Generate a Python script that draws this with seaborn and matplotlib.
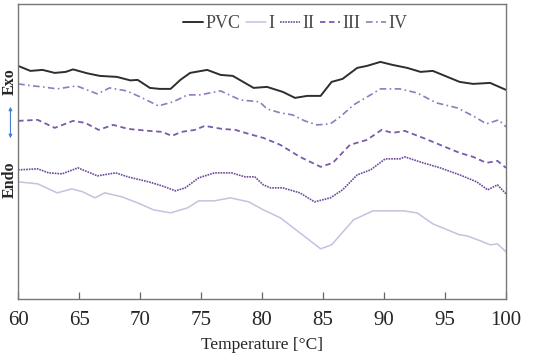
"""DSC thermograms of PVC and samples I-IV, 60-100 degC."""

import matplotlib

matplotlib.use("Agg")
import matplotlib.pyplot as plt
import pandas as pd
import seaborn as sns

# heat flow in arbitrary units (Exo up)
T_PVC = [60.0, 61.0, 62.0, 63.0, 63.9, 64.5, 65.7, 66.7, 68.1, 69.2, 69.8, 70.8,
         71.6, 72.5, 73.3, 74.1, 75.5, 76.6, 77.6, 79.3, 80.4, 81.7, 82.7, 83.7,
         84.8, 85.7, 86.6, 87.8, 88.6, 89.7, 90.7, 91.9, 93.0, 94.0, 95.2, 96.2,
         97.3, 98.7, 100.0]
HF_PVC = [233, 228, 229, 226, 227, 229.5, 225.5, 223, 222, 218.5, 219, 211,
          210, 210, 219, 226, 229, 224, 223, 211, 212, 207, 201, 203,
          203, 217, 220, 231, 233, 237, 234, 231, 227, 228, 222, 217,
          215, 216, 209]

T_I = [60.0, 61.6, 63.2, 64.4, 65.3, 66.3, 67.1, 68.5, 69.8, 71.1, 72.5, 73.9,
       74.8, 76.1, 77.4, 78.9, 80.1, 81.5, 83.1, 84.8, 85.7, 87.5, 89.1, 91.6,
       92.7, 94.0, 95.2, 96.2, 96.8, 97.9, 98.7, 99.3, 100.0]
HF_I = [117, 115, 106, 110, 107, 101, 106, 102, 96, 89, 86, 91,
        98, 98, 101, 97, 89, 81, 66, 50, 54, 79, 88, 88,
        86, 75, 69, 64, 63, 58, 54, 55, 47]

T_II = [60.0, 61.6, 62.5, 63.6, 64.9, 66.5, 68.0, 69.0, 70.7, 71.8, 72.9, 73.7,
        74.8, 76.1, 77.5, 78.6, 79.4, 80.1, 80.7, 81.7, 83.1, 84.3, 85.6, 86.6,
        87.8, 88.9, 90.1, 91.3, 91.7, 93.2, 94.6, 96.2, 97.6, 98.5, 99.3, 100.0]
HF_II = [129, 130, 126, 125, 131, 123, 126, 122, 117, 113, 108, 111,
         121, 126, 126, 122, 122, 114, 111, 111, 106, 97, 101, 109,
         124, 129, 140, 140, 142, 136, 131, 124, 117, 109, 114, 105]

T_III = [60.0, 61.6, 63.0, 64.5, 65.5, 66.6, 67.8, 69.0, 70.7, 71.8, 72.6, 73.4,
         74.5, 75.3, 76.7, 77.8, 78.9, 80.1, 81.5, 83.1, 84.8, 85.8, 87.2, 88.6,
         89.8, 90.7, 91.7, 93.2, 94.6, 96.2, 97.3, 98.4, 99.3, 100.0]
HF_III = [178, 179, 171, 178, 176, 169, 174, 170, 168, 167, 163, 167,
          169, 173, 170, 169, 165, 161, 154, 142, 132, 136, 154, 159,
          169, 166, 168, 161, 154, 146, 142, 136, 138, 131]

T_IV = [60.0, 61.2, 62.0, 63.2, 64.8, 66.5, 67.5, 68.9, 70.0, 71.5, 72.7, 73.9,
        74.9, 76.6, 78.2, 79.8, 80.4, 81.5, 82.5, 83.5, 84.5, 85.6, 86.4, 87.5,
        88.9, 89.7, 91.3, 92.7, 94.3, 96.0, 97.3, 98.4, 99.4, 100.0]
HF_IV = [215, 213, 212, 210, 213, 205, 211, 208, 202, 193, 197, 204,
         204, 208, 199, 197, 190, 186, 184, 178, 174, 175, 182, 194,
         204, 210, 210, 206, 196, 191, 183, 175, 179, 172]

SERIES = ["PVC", "I", "II", "III", "IV"]
COLORS = {"PVC": "#2e2e2e", "I": "#c9bfe0", "II": "#6a4b9c",
          "III": "#7a5bab", "IV": "#9379bf"}
STYLES = {"PVC": "-", "I": "-", "II": (0, (1, 0.6)),
          "III": (0, (3, 2)), "IV": (0, (4, 2, 1, 2))}
WIDTHS = {"PVC": 1.4, "I": 1.1, "II": 1.2, "III": 1.3, "IV": 1.2}

frames = []
for name, t, hf in [("PVC", T_PVC, HF_PVC), ("I", T_I, HF_I), ("II", T_II, HF_II),
                    ("III", T_III, HF_III), ("IV", T_IV, HF_IV)]:
    frames.append(pd.DataFrame({"T": t, "hf": hf, "sample": name}))
df = pd.concat(frames, ignore_index=True)

sns.set_style("white")
plt.rcParams["font.family"] = ["Liberation Serif", "DejaVu Serif"]

fig = plt.figure(figsize=(5.5, 3.57), dpi=100)
ax = fig.add_axes([0.033, 0.163, 0.887, 0.826])

for name in SERIES:
    sub = df[df["sample"] == name]
    sns.lineplot(data=sub, x="T", y="hf", ax=ax, color=COLORS[name],
                 lw=WIDTHS[name], linestyle=STYLES[name], label=name,
                 estimator=None, sort=False)

ax.set_xlim(60, 100)
ax.set_ylim(0, 295)
ax.set_xticks(range(60, 101, 5))
ax.set_yticks([])
ax.tick_params(axis="x", direction="in", length=5, width=0.9, color="#666666",
               labelsize=15, pad=9, bottom=True)
for sp in ax.spines.values():
    sp.set_color("#777777")
    sp.set_linewidth(1.0)
ax.set_xlabel("Temperature [°C]", fontsize=12.5, labelpad=5)
ax.set_ylabel("")

ax.legend(loc="center", bbox_to_anchor=(0.568, 0.932), ncol=5, frameon=False,
          fontsize=13, handlelength=1.1, handletextpad=0.15, columnspacing=0.3,
          labelcolor="#4a4a4a")

fig.text(0.017, 1 - 82 / 357, "Exo", rotation=90, ha="center", va="center",
         fontsize=11.5, fontweight="bold")
fig.text(0.017, 1 - 180 / 357, "Endo", rotation=90, ha="center", va="center",
         fontsize=11.5, fontweight="bold")
fig.patches.append(matplotlib.patches.FancyArrowPatch(
    (0.019, 1 - 104 / 357), (0.019, 1 - 141 / 357), transform=fig.transFigure,
    arrowstyle="<|-|>", mutation_scale=5, color="#4a7fd0", lw=0.8))

fig.savefig("out.png", dpi=100)
